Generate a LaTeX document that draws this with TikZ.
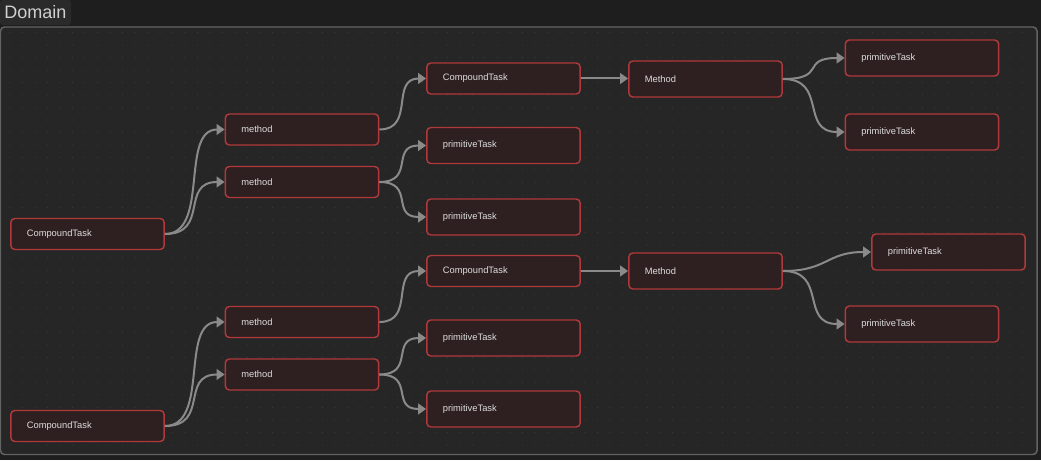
\documentclass[tikz,border=0pt]{standalone}
\usepackage{fontspec}
\setmainfont{Liberation Sans}
\usetikzlibrary{arrows.meta}
\definecolor{pagebg}{HTML}{1E1E1E}
\definecolor{tabbg}{HTML}{2A2A2A}
\definecolor{framebg}{HTML}{262626}
\definecolor{framegray}{HTML}{636363}
\definecolor{griddot}{HTML}{3A3A3A}
\definecolor{taskfill}{HTML}{2E1F20}
\definecolor{taskedge}{HTML}{B0393C}
\definecolor{tasktext}{HTML}{DEDEDE}
\definecolor{linkgray}{HTML}{8A8A8A}
\begin{document}
\begin{tikzpicture}[x=0.75pt,y=-0.75pt,
  task/.style={draw=taskedge, fill=taskfill, line width=1.1pt, rounded corners=3pt,
    minimum height=23.25pt, text width=91pt, inner xsep=12pt, align=left,
    text=tasktext, font=\fontsize{7}{8}\selectfont},
  tall/.style={minimum height=27pt},
  link/.style={draw=linkgray, line width=1.5pt, -{Triangle[length=6pt,width=8pt]}}]

\useasboundingbox (0,0) rectangle (1041,460);
\fill[pagebg] (0,0) rectangle (1041,460);

% frame and title tab
\fill[tabbg, rounded corners=2pt] (0,0) rectangle (71,25);
\node[anchor=west, text=framegray!30!white, font=\fontsize{13.5}{14}\selectfont, inner sep=0pt] (title) at (4,12) {Domain};
\draw[framegray, line width=1.1pt, fill=framebg, rounded corners=3pt] (0.5,27) rectangle (1037,454.5);

% dot grid
\foreach \x in {10,22.5,...,1030}
  \foreach \y in {32.5,45,...,450}
    \fill[griddot] (\x,\y) circle (0.6);

% upper tree
\node[task] (ct1) at (87.5,234) {CompoundTask};
\node[task] (ma) at (302,129.5) {method};
\node[task] (mb) at (302,182) {method};
\node[task] (cc1) at (503.5,78.5) {CompoundTask};
\node[task, tall] (p1) at (503.5,145.5) {primitiveTask};
\node[task, tall] (p2) at (503.5,217) {primitiveTask};
\node[task, tall] (M1) at (705.5,79) {Method};
\node[task, tall] (p3) at (922,58) {primitiveTask};
\node[task, tall] (p4) at (922,132) {primitiveTask};

\draw[link] (ct1.east) .. controls +(45,0) and +(-45,0) .. (ma.west);
\draw[link] (ct1.east) .. controls +(45,0) and +(-45,0) .. (mb.west);
\draw[link] (ma.east) .. controls +(36,0) and +(-36,0) .. (cc1.west);
\draw[link] (mb.east) .. controls +(36,0) and +(-36,0) .. (p1.west);
\draw[link] (mb.east) .. controls +(36,0) and +(-36,0) .. (p2.west);
\draw[link] (cc1.east) -- (cc1.east -| M1.west);
\draw[link] (M1.east) .. controls +(45,0) and +(-45,0) .. (p3.west);
\draw[link] (M1.east) .. controls +(45,0) and +(-45,0) .. (p4.west);

% lower tree
\node[task] (ct2) at (87.5,426) {CompoundTask};
\node[task] (mc) at (302,322) {method};
\node[task] (md) at (302,374.5) {method};
\node[task] (cc2) at (503.5,271) {CompoundTask};
\node[task, tall] (p5) at (503.5,338) {primitiveTask};
\node[task, tall] (p6) at (503.5,409) {primitiveTask};
\node[task, tall] (M2) at (705.5,271) {Method};
\node[task, tall] (p7) at (948.5,252) {primitiveTask};
\node[task, tall] (p8) at (922,324) {primitiveTask};

\draw[link] (ct2.east) .. controls +(45,0) and +(-45,0) .. (mc.west);
\draw[link] (ct2.east) .. controls +(45,0) and +(-45,0) .. (md.west);
\draw[link] (mc.east) .. controls +(36,0) and +(-36,0) .. (cc2.west);
\draw[link] (md.east) .. controls +(36,0) and +(-36,0) .. (p5.west);
\draw[link] (md.east) .. controls +(36,0) and +(-36,0) .. (p6.west);
\draw[link] (cc2.east) -- (cc2.east -| M2.west);
\draw[link] (M2.east) .. controls +(45,0) and +(-45,0) .. (p7.west);
\draw[link] (M2.east) .. controls +(45,0) and +(-45,0) .. (p8.west);

\end{tikzpicture}
\end{document}
